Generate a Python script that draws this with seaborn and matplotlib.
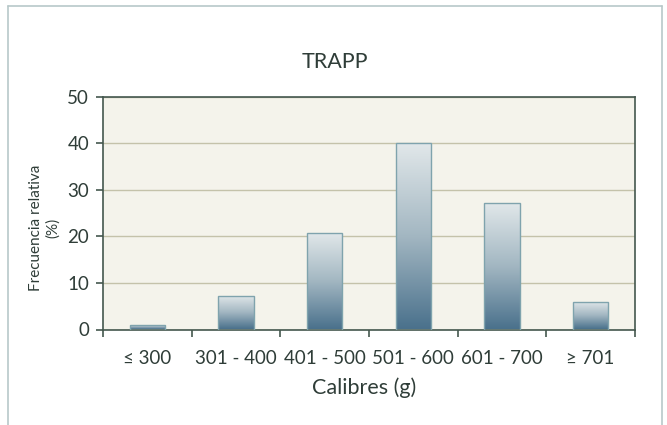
import numpy as np
import pandas as pd
import matplotlib
matplotlib.use("Agg")
import matplotlib.pyplot as plt
import seaborn as sns
from matplotlib.colors import LinearSegmentedColormap
from matplotlib.lines import Line2D

# ---- data ----
categories = ["\u2264 300", "301 - 400", "401 - 500", "501 - 600", "601 - 700", "\u2265 701"]
values = [0.9, 7.1, 20.7, 40.0, 27.3, 5.9]
yticks = [0, 10, 20, 30, 40, 50]
title = "TRAPP"
xlabel = "Calibres (g)"
ylabel = "Frecuencia relativa\n(%)"

df = pd.DataFrame({"cat": categories, "val": values})

sns.set_style("white")
plt.rcParams["font.family"] = ["Lato", "DejaVu Sans"]
text_col = "#2f3d38"
spine_col = "#44574e"

W, H = 667, 425
fig = plt.figure(figsize=(W / 100, H / 100), dpi=100)
fig.patch.set_facecolor("white")
ax_l, ax_r, ax_t, ax_b = 103, 635, 97, 329.5
ax = fig.add_axes([ax_l / W, 1 - ax_b / H, (ax_r - ax_l) / W, (ax_b - ax_t) / H])
ax.set_facecolor("#f4f3eb")

sns.barplot(data=df, x="cat", y="val", ax=ax, width=0.40, color="#5a7f95",
            edgecolor="#7fa3ad", linewidth=1.0, zorder=3)

# gradient fill inside each bar
cmap = LinearSegmentedColormap.from_list("g", ["#e2e8ea", "#a3b7c2", "#4a718c"])
grad = np.linspace(0, 1, 256).reshape(-1, 1)
for p in ax.patches:
    x0, w, h = p.get_x(), p.get_width(), p.get_height()
    im = ax.imshow(grad, cmap=cmap, aspect="auto", extent=(x0, x0 + w, 0, h),
                   origin="upper", zorder=2.5)
    im.set_clip_path(p)
    p.set_facecolor("none")

ax.set_xlim(-0.5, len(categories) - 0.5)
ax.set_ylim(0, 50)
ax.set_yticks(yticks)
ax.yaxis.grid(True, color="#c4c2aa", linewidth=1.0, zorder=1)
ax.set_axisbelow(True)

for s in ax.spines.values():
    s.set_visible(True)
    s.set_color(spine_col)
    s.set_linewidth(1.2)

# x ticks: labels at centers, marks at boundaries
ax.set_xticks(range(len(categories)))
ax.set_xticklabels(categories)
ax.set_xticks(np.arange(-0.5, len(categories), 1.0), minor=True)
ax.tick_params(axis="x", which="major", length=0, pad=15, labelsize=13.5, labelcolor=text_col)
ax.tick_params(axis="x", which="minor", length=5, width=1.2, color=spine_col, direction="out", bottom=True)
ax.tick_params(axis="y", which="major", length=5, width=1.2, color=spine_col, direction="out",
               left=True, pad=5, labelsize=13.5, labelcolor=text_col)

ax.set_xlabel(xlabel, fontsize=15.5, color=text_col)
ax.xaxis.set_label_coords(0.49, -(388 - ax_b) / (ax_b - ax_t))
ax.xaxis.label.set_va("center")
ax.set_ylabel(ylabel, fontsize=11, color=text_col, linespacing=1.25)
ax.yaxis.set_label_coords(-(ax_l - 45) / (ax_r - ax_l), (ax_b - 228) / (ax_b - ax_t))
ax.yaxis.label.set_va("center")

fig.text(335 / W, 1 - 62 / H, title, fontsize=15.5, color=text_col, ha="center", va="center")

# outer frame of the figure panel
bcol = "#b7c8c9"
fig.add_artist(Line2D([8 / W, 8 / W], [0, 1 - 6 / H], color=bcol, lw=1.2, transform=fig.transFigure))
fig.add_artist(Line2D([8 / W, 662 / W], [1 - 6 / H, 1 - 6 / H], color=bcol, lw=1.2, transform=fig.transFigure))
fig.add_artist(Line2D([662 / W, 662 / W], [0, 1 - 6 / H], color=bcol, lw=1.2, transform=fig.transFigure))

fig.savefig("out.png", dpi=100)
